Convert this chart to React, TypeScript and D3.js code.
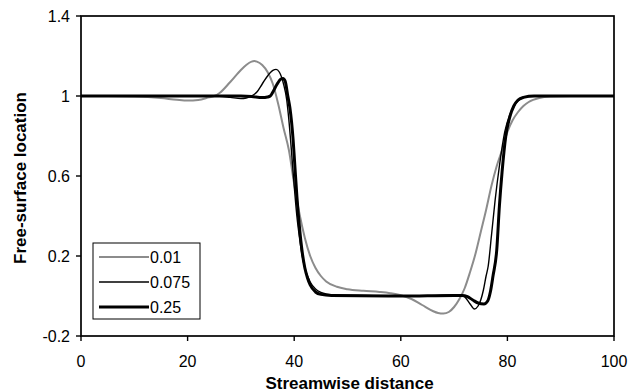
import React from "react";
import * as d3 from "d3";

type Pt = [number, number];

const seriesLabels = ["0.01", "0.075", "0.25"];

const curve001: Pt[] = [
  [0, 1.0], [5, 1.0], [10, 0.998], [15, 0.99], [18, 0.981], [20, 0.977], [22, 0.98], [24, 0.993],
  [25, 1.0], [26, 1.015], [28, 1.07], [30, 1.13], [31, 1.155], [32, 1.172], [32.5, 1.175], [33, 1.172],
  [34, 1.155], [35, 1.12], [36, 1.06], [37, 0.96], [38, 0.84], [39, 0.73], [40, 0.56], [41, 0.41],
  [42, 0.29], [43, 0.2], [44, 0.14], [45, 0.1], [46, 0.073], [48, 0.046], [50, 0.034], [53, 0.026],
  [56, 0.02], [58, 0.014], [60, 0.004], [62, -0.015], [64, -0.045], [66, -0.075], [67, -0.085],
  [68, -0.088], [69, -0.08], [70, -0.055], [71, -0.015], [72, 0.04], [73, 0.12], [74, 0.21],
  [75, 0.32], [76, 0.43], [77, 0.55], [78, 0.65], [79, 0.73], [80, 0.82], [81, 0.88], [82, 0.92],
  [83, 0.95], [84, 0.97], [86, 0.99], [88, 0.997], [92, 1.0], [100, 1.0],
];

const curve0075: Pt[] = [
  [0, 1.0], [20, 1.0], [26, 0.998], [28, 0.993], [30, 0.987], [31, 0.99], [32, 1.0], [33, 1.02],
  [34, 1.06], [35, 1.1], [36, 1.128], [36.6, 1.133], [37.2, 1.12], [38, 1.06], [38.6, 0.98],
  [39, 0.88], [39.5, 0.72], [40, 0.55], [40.5, 0.4], [41, 0.29], [41.5, 0.2], [42, 0.14], [43, 0.07],
  [44, 0.035], [45, 0.018], [46, 0.01], [48, 0.005], [55, 0.002], [60, 0.0], [65, 0.002], [70, 0.005],
  [71, 0.005], [72, -0.005], [73, -0.04], [73.8, -0.065], [74.5, -0.05], [75, -0.02], [75.5, 0.03],
  [76, 0.1], [76.4, 0.15], [77, 0.3], [77.7, 0.48], [78.5, 0.65], [79.5, 0.82], [80.5, 0.91],
  [81.5, 0.96], [82.5, 0.985], [84, 0.997], [86, 1.0], [100, 1.0],
];

const curve025: Pt[] = [
  [0, 1.0], [30, 1.0], [32, 0.998], [34, 0.992], [35, 0.995], [35.5, 1.0], [36, 1.02], [36.8, 1.06],
  [37.5, 1.085], [37.9, 1.088], [38.3, 1.075], [38.8, 1.0], [39.2, 0.94], [39.8, 0.78], [40.1, 0.66],
  [40.5, 0.5], [41, 0.34], [41.5, 0.22], [42, 0.14], [42.5, 0.09], [43, 0.055], [44, 0.02],
  [45, 0.008], [47, 0.003], [60, 0.0], [70, 0.003], [71.5, 0.003], [72.5, -0.003], [73.5, -0.02],
  [74.5, -0.035], [75.6, -0.04], [76.3, -0.025], [76.8, 0.02], [77.3, 0.1], [78, 0.23], [78.5, 0.45],
  [79, 0.62], [79.7, 0.8], [80.5, 0.9], [81.2, 0.95], [82, 0.98], [83, 0.993], [85, 1.0], [100, 1.0],
];

const xTicks = [0, 20, 40, 60, 80, 100];
const yTicks = [-0.2, 0.2, 0.6, 1, 1.4];

const W = 640;
const H = 392;
const M = { left: 81, right: 614, top: 16, bottom: 336 };

const series = [
  { label: seriesLabels[0], data: curve001, color: "#8c8c8c", width: 2 },
  { label: seriesLabels[1], data: curve0075, color: "#000000", width: 1.4 },
  { label: seriesLabels[2], data: curve025, color: "#000000", width: 3 },
];

export default function App() {
  const x = d3.scaleLinear().domain([0, 100]).range([M.left, M.right]);
  const y = d3.scaleLinear().domain([-0.2, 1.4]).range([M.bottom, M.top]);
  const line = d3
    .line<Pt>()
    .x((d) => x(d[0]))
    .y((d) => y(d[1]))
    .curve(d3.curveMonotoneX);

  const font = "'Liberation Sans', Arial, Helvetica, sans-serif";
  const legend = { x0: 93, y0: 243, x1: 200, y1: 319 };
  const legendRows = [257, 282, 307];

  return (
    <svg
      width={W}
      height={H}
      style={{ position: "absolute", left: 0, top: 0, background: "#fff" }}
      fontFamily={font}
    >
      <rect x={0} y={0} width={W} height={H} fill="#fff" />
      <defs>
        <clipPath id="plotclip">
          <rect x={M.left} y={M.top} width={M.right - M.left} height={M.bottom - M.top} />
        </clipPath>
      </defs>
      <g clipPath="url(#plotclip)">
        {series.map((s) => (
          <path
            key={s.label}
            d={line(s.data) || ""}
            fill="none"
            stroke={s.color}
            strokeWidth={s.width}
            strokeLinejoin="round"
            strokeLinecap="round"
          />
        ))}
      </g>
      <rect
        x={M.left}
        y={M.top}
        width={M.right - M.left}
        height={M.bottom - M.top}
        fill="none"
        stroke="#000"
        strokeWidth={1.7}
      />
      {yTicks.map((t) => (
        <g key={"y" + t}>
          <line x1={M.left - 5} x2={M.left} y1={y(t)} y2={y(t)} stroke="#000" strokeWidth={1.4} />
          <text x={M.left - 11} y={y(t)} dy="0.35em" textAnchor="end" fontSize={16} fill="#000">
            {String(t)}
          </text>
        </g>
      ))}
      {xTicks.map((t) => (
        <g key={"x" + t}>
          <line x1={x(t)} x2={x(t)} y1={M.bottom} y2={M.bottom + 5} stroke="#000" strokeWidth={1.4} />
          <text x={x(t)} y={361} dy="0.35em" textAnchor="middle" fontSize={16} fill="#000">
            {String(t)}
          </text>
        </g>
      ))}
      <text
        x={(M.left + M.right) / 2 + 2}
        y={383}
        dy="0.35em"
        textAnchor="middle"
        fontSize={17}
        fontWeight="bold"
        fill="#000"
      >
        Streamwise distance
      </text>
      <text
        transform={`translate(20,${(M.top + M.bottom) / 2 + 2}) rotate(-90)`}
        dy="0.35em"
        textAnchor="middle"
        fontSize={17}
        fontWeight="bold"
        fill="#000"
      >
        Free-surface location
      </text>
      <rect
        x={legend.x0}
        y={legend.y0}
        width={legend.x1 - legend.x0}
        height={legend.y1 - legend.y0}
        fill="#fff"
        stroke="#000"
        strokeWidth={1}
      />
      {series.map((s, i) => (
        <g key={"lg" + s.label}>
          <line
            x1={99}
            x2={149}
            y1={legendRows[i]}
            y2={legendRows[i]}
            stroke={s.color}
            strokeWidth={s.width}
          />
          <text x={150} y={legendRows[i]} dy="0.35em" fontSize={16} fill="#000">
            {s.label}
          </text>
        </g>
      ))}
    </svg>
  );
}
